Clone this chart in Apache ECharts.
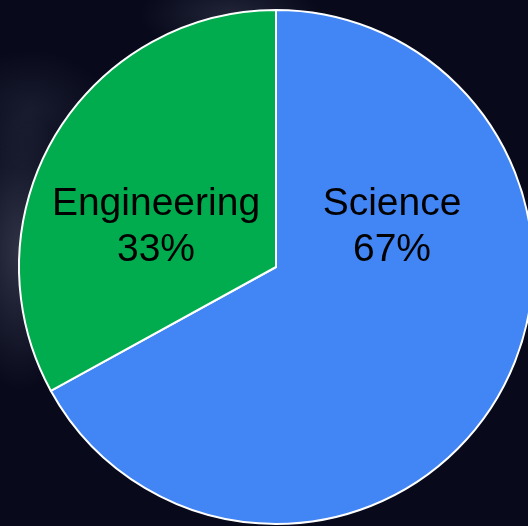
<!DOCTYPE html>
<html>
<head>
<meta charset="utf-8">
<script src="https://cdn.jsdelivr.net/npm/echarts@6/dist/echarts.min.js"></script>
<style>
  html, body { margin: 0; padding: 0; }
  body {
    width: 528px; height: 526px; overflow: hidden;
    background:
      radial-gradient(ellipse 60px 140px at 20px 250px, rgba(120,125,145,0.35), rgba(120,125,145,0) 100%),
      radial-gradient(ellipse 90px 40px at 230px 15px, rgba(110,115,135,0.25), rgba(110,115,135,0) 100%),
      radial-gradient(ellipse 80px 60px at 30px 110px, rgba(90,95,115,0.2), rgba(90,95,115,0) 100%),
      #080a1c;
  }
  #chart { width: 528px; height: 526px; }
</style>
</head>
<body>
<div id="chart"></div>
<script>
// 数据
const categories = ['Science', 'Engineering']
const values = [67, 33]
const colors = ['#4285f4', '#00ac4e']

// 圆心与标签相对圆心的偏移
const CX = 276, CY = 267
const labelOffsets = [[116, -40], [-120, -40]]

const chart = echarts.init(document.getElementById('chart'))
chart.setOption({
  backgroundColor: 'transparent',
  animation: false,
  series: [{
    type: 'pie',
    center: [CX, CY],
    radius: 257,
    startAngle: 90,
    clockwise: true,
    itemStyle: { borderColor: '#ffffff', borderWidth: 2 },
    label: {
      show: true,
      position: 'inside',
      formatter: p => `${p.name}\n${p.value}%`,
      fontFamily: 'Liberation Sans, Arial, sans-serif',
      fontSize: 39,
      lineHeight: 46,
      color: '#000000'
    },
    labelLine: { show: false },
    emphasis: { disabled: true },
    labelLayout: params => {
      const o = labelOffsets[params.dataIndex]
      return { x: CX + o[0], y: CY + o[1], align: 'center', verticalAlign: 'middle' }
    },
    data: categories.map((c, i) => ({
      name: c,
      value: values[i],
      itemStyle: { color: colors[i] }
    }))
  }]
})
</script>
</body>
</html>
